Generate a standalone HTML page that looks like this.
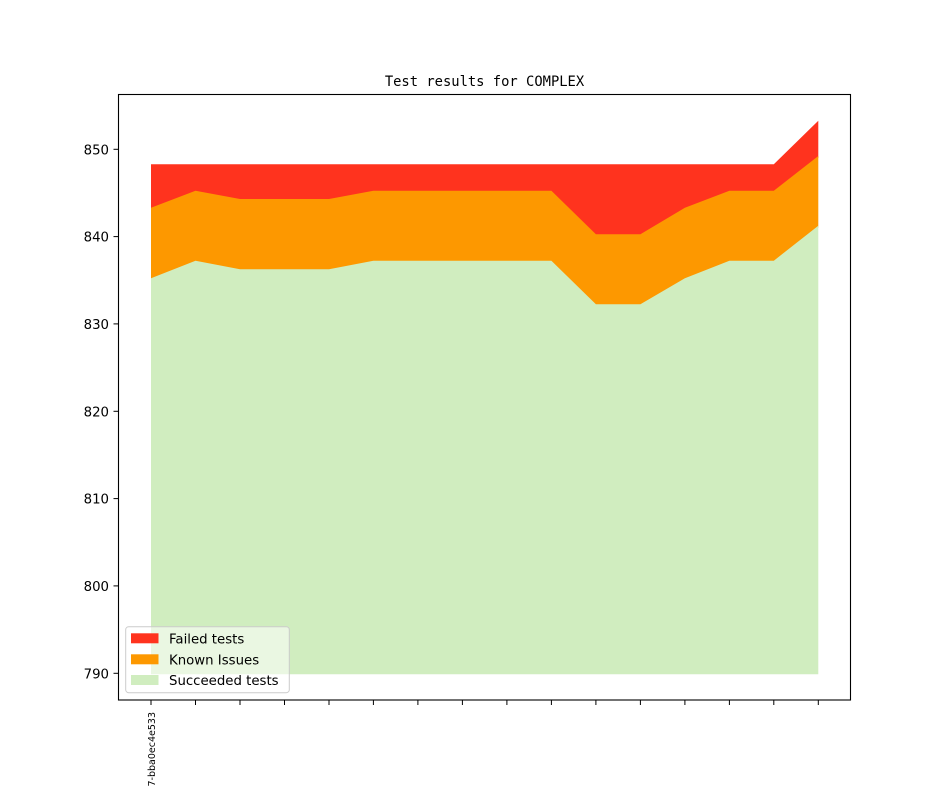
<!DOCTYPE html>
<html>
<head>
<meta charset="utf-8">
<style>
  html, body { margin: 0; padding: 0; background: #ffffff; width: 944px; height: 787px; overflow: hidden; }
  svg { display: block; overflow: hidden; }
</style>
</head>
<body>
<svg width="944" height="787" viewBox="0 0 944 787" xmlns="http://www.w3.org/2000/svg">
  <rect x="0" y="0" width="944" height="787" fill="#ffffff"/>

  <!-- Failed (red) band -->
  <polygon fill="#ff331e" points="151,164.3 195.5,164.3 240,164.3 284.5,164.3 329,164.3 373.4,164.3 417.9,164.3 462.4,164.3 506.9,164.3 551.4,164.3 595.9,164.3 640.4,164.3 684.9,164.3 729.4,164.3 773.8,164.3 818.3,120.7 818.3,158 773.8,192.7 729.4,192.7 684.9,209.7 640.4,236.3 595.9,236.3 551.4,192.7 506.9,192.7 462.4,192.7 417.9,192.7 373.4,192.7 329,201 284.5,201 240,201 195.5,192.7 151,209.7"/>
  <!-- Known issues (orange) band -->
  <polygon fill="#fd9800" points="151,207.7 195.5,190.7 240,199 284.5,199 329,199 373.4,190.7 417.9,190.7 462.4,190.7 506.9,190.7 551.4,190.7 595.9,234.3 640.4,234.3 684.9,207.7 729.4,190.7 773.8,190.7 818.3,156 818.3,227.7 773.8,262.7 729.4,262.7 684.9,280.3 640.4,306.3 595.9,306.3 551.4,262.7 506.9,262.7 462.4,262.7 417.9,262.7 373.4,262.7 329,271.3 284.5,271.3 240,271.3 195.5,262.7 151,280.3"/>
  <!-- Succeeded (green) -->
  <polygon fill="#d0edbf" points="151,278.3 195.5,260.7 240,269.3 284.5,269.3 329,269.3 373.4,260.7 417.9,260.7 462.4,260.7 506.9,260.7 551.4,260.7 595.9,304.3 640.4,304.3 684.9,278.3 729.4,260.7 773.8,260.7 818.3,225.7 818.3,674.3 151,674.3"/>

  <!-- Axes frame -->
  <rect x="118.5" y="94.5" width="732" height="605.5" fill="none" stroke="#000000" stroke-width="1.1"/>

  <!-- Y ticks -->
  <g stroke="#000" stroke-width="1">
    <line x1="113.5" y1="149.3" x2="118.5" y2="149.3"/>
    <line x1="113.5" y1="236.6" x2="118.5" y2="236.6"/>
    <line x1="113.5" y1="323.9" x2="118.5" y2="323.9"/>
    <line x1="113.5" y1="411.3" x2="118.5" y2="411.3"/>
    <line x1="113.5" y1="498.6" x2="118.5" y2="498.6"/>
    <line x1="113.5" y1="585.9" x2="118.5" y2="585.9"/>
    <line x1="113.5" y1="673.3" x2="118.5" y2="673.3"/>
  </g>
  <g font-family="'DejaVu Sans', 'Liberation Sans', sans-serif" font-size="13.3" fill="#000" text-anchor="end">
    <text x="109" y="154.3">850</text>
    <text x="109" y="241.6">840</text>
    <text x="109" y="328.9">830</text>
    <text x="109" y="416.3">820</text>
    <text x="109" y="503.6">810</text>
    <text x="109" y="590.9">800</text>
    <text x="109" y="678.3">790</text>
  </g>

  <!-- X ticks -->
  <g stroke="#000" stroke-width="1">
    <line x1="151" y1="700" x2="151" y2="705"/>
    <line x1="195.5" y1="700" x2="195.5" y2="705"/>
    <line x1="240" y1="700" x2="240" y2="705"/>
    <line x1="284.5" y1="700" x2="284.5" y2="705"/>
    <line x1="329" y1="700" x2="329" y2="705"/>
    <line x1="373.4" y1="700" x2="373.4" y2="705"/>
    <line x1="417.9" y1="700" x2="417.9" y2="705"/>
    <line x1="462.4" y1="700" x2="462.4" y2="705"/>
    <line x1="506.9" y1="700" x2="506.9" y2="705"/>
    <line x1="551.4" y1="700" x2="551.4" y2="705"/>
    <line x1="595.9" y1="700" x2="595.9" y2="705"/>
    <line x1="640.4" y1="700" x2="640.4" y2="705"/>
    <line x1="684.9" y1="700" x2="684.9" y2="705"/>
    <line x1="729.4" y1="700" x2="729.4" y2="705"/>
    <line x1="773.8" y1="700" x2="773.8" y2="705"/>
    <line x1="818.3" y1="700" x2="818.3" y2="705"/>
  </g>
  <text x="155" y="712" transform="rotate(-90 155 712)" text-anchor="end" font-family="'DejaVu Sans', 'Liberation Sans', sans-serif" font-size="9.5" fill="#000">7-bba0ec4e533</text>

  <!-- Title -->
  <text x="484.5" y="86" text-anchor="middle" font-family="'DejaVu Sans Mono', 'Liberation Mono', monospace" font-size="13.8" fill="#000">Test results for COMPLEX</text>

  <!-- Legend -->
  <rect x="125.7" y="626.7" width="163.6" height="66" rx="3" ry="3" fill="#ffffff" fill-opacity="0.55" stroke="#cccccc" stroke-width="1"/>
  <rect x="131" y="633.3" width="27.5" height="10" fill="#ff331e"/>
  <rect x="131" y="654.3" width="27.5" height="10" fill="#fd9800"/>
  <rect x="131" y="675" width="27.5" height="10" fill="#d0edbf"/>
  <g font-family="'DejaVu Sans', 'Liberation Sans', sans-serif" font-size="13.3" fill="#000">
    <text x="169" y="643.3">Failed tests</text>
    <text x="169" y="664.3">Known Issues</text>
    <text x="169" y="685">Succeeded tests</text>
  </g>
</svg>
</body>
</html>
